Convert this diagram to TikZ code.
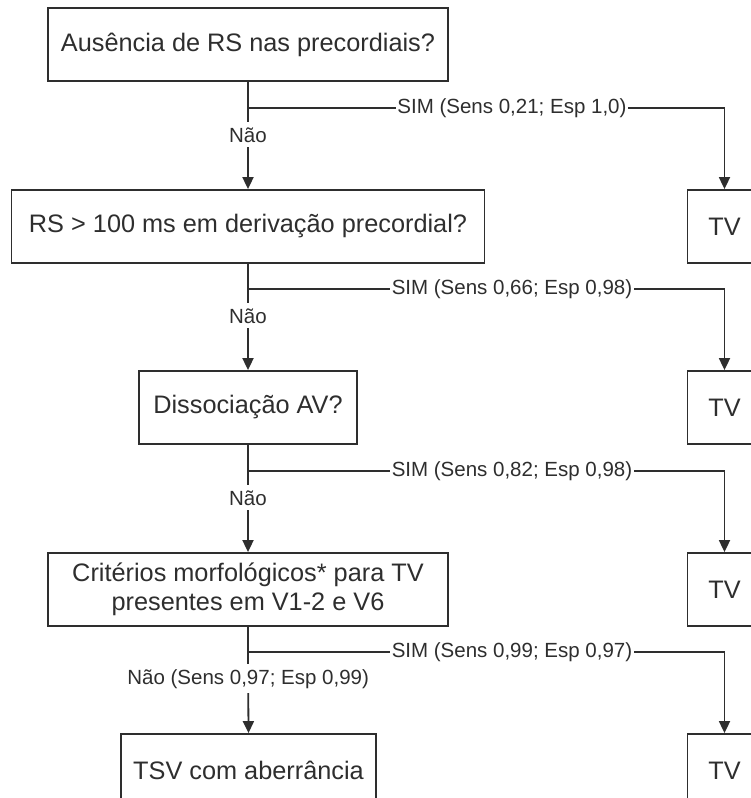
\documentclass[tikz,border=0pt]{standalone}
\usepackage{fontspec}
\setmainfont{Liberation Sans}
\usetikzlibrary{arrows.meta}
\definecolor{ink}{HTML}{2E2E2E}
\begin{document}
\begin{tikzpicture}[x=1pt,y=-1pt,
  box/.style={draw=ink, line width=1.8pt, minimum height=73pt, inner sep=0pt, text=ink,
              font=\fontsize{25.3}{28.5}\selectfont, align=center},
  lbl/.style={fill=white, inner xsep=1.5pt, inner ysep=1.5pt, text=ink, font=\fontsize{20.5}{24}\selectfont},
  vlbl/.style={lbl, inner ysep=5pt},
  conn/.style={draw=ink, line width=1.8pt},
  arr/.style={conn, -{Triangle[width=11pt,length=12pt]}}]
\path[use as bounding box] (0,0) rectangle (751,798);
\clip (0,0) rectangle (751,798);
% question boxes
\node[box, minimum width=400pt] (q1) at (248,44.5) {Ausência de RS nas precordiais?};
\node[box, minimum width=473pt] (q2) at (248,226.5) {RS > 100 ms em derivação precordial?};
\node[box, minimum width=218pt] (q3) at (248,407.5) {Dissociação AV?};
\node[box, minimum width=400pt] (q4) at (248,589.5) {Critérios morfológicos* para TV\\presentes em V1-2 e V6};
\node[box, minimum width=255pt] (q5) at (248.5,770.5) {TSV com aberrância};
% TV boxes
\node[box, minimum width=74pt] (t1) at (724.5,226.5) {TV};
\node[box, minimum width=74pt] (t2) at (724.5,407.5) {TV};
\node[box, minimum width=74pt] (t3) at (724.5,589.5) {TV};
\node[box, minimum width=74pt] (t4) at (724.5,770.5) {TV};
% branch points
\coordinate (b1) at (248,108);
\coordinate (b2) at (248,289);
\coordinate (b3) at (248,471);
\coordinate (b4) at (248,652);
% connectors
\draw[conn] (q1.south) -- (b1);
\draw[arr] (b1) -- node[vlbl, pos=0.33] {Não} (q2.north);
\draw[arr] (b1) -| node[lbl, pos=0.277] {SIM (Sens 0,21; Esp 1,0)} (t1.north);
\draw[conn] (q2.south) -- (b2);
\draw[arr] (b2) -- node[vlbl, pos=0.33] {Não} (q3.north);
\draw[arr] (b2) -| node[lbl, pos=0.277] {SIM (Sens 0,66; Esp 0,98)} (t2.north);
\draw[conn] (q3.south) -- (b3);
\draw[arr] (b3) -- node[vlbl, pos=0.33] {Não} (q4.north);
\draw[arr] (b3) -| node[lbl, pos=0.277] {SIM (Sens 0,82; Esp 0,98)} (t3.north);
\draw[conn] (q4.south) -- (b4);
\draw[arr] (b4) -- node[vlbl, pos=0.33] {Não (Sens 0,97; Esp 0,99)} (q5.north);
\draw[arr] (b4) -| node[lbl, pos=0.277] {SIM (Sens 0,99; Esp 0,97)} (t4.north);
\end{tikzpicture}
\end{document}
